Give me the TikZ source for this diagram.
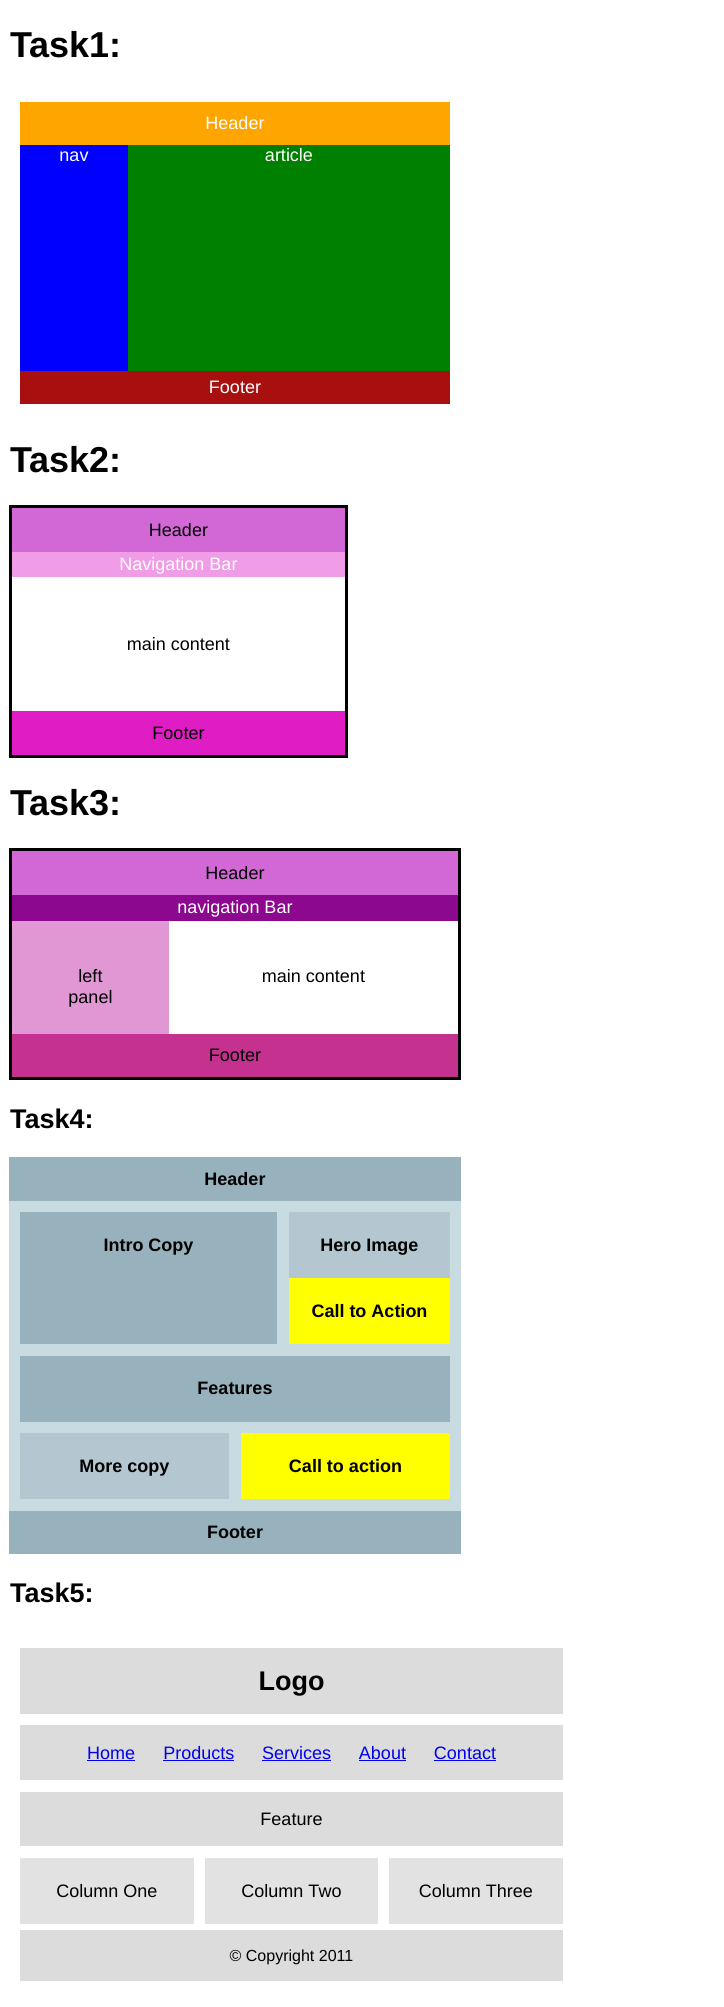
\documentclass[tikz,border=0pt]{standalone}
\usepackage{fontspec}
\setmainfont{Liberation Sans}
\definecolor{tAorange}{HTML}{FFA500}
\definecolor{tAblue}{HTML}{0000FF}
\definecolor{tAgreen}{HTML}{008000}
\definecolor{tAred}{HTML}{A81010}
\definecolor{orchidH}{HTML}{D268D6}
\definecolor{navpink}{HTML}{F09CE6}
\definecolor{footmag}{HTML}{E01CC4}
\definecolor{darkmag}{HTML}{8B088F}
\definecolor{leftpl}{HTML}{E097D4}
\definecolor{footmvr}{HTML}{C4318F}
\definecolor{slateD}{HTML}{97B2BC}
\definecolor{slateL}{HTML}{B4C7D0}
\definecolor{slateBg}{HTML}{C8DBE0}
\definecolor{callY}{HTML}{FFFF00}
\definecolor{gainsA}{HTML}{DCDCDC}
\definecolor{gainsB}{HTML}{E2E2E2}
\definecolor{linkblue}{HTML}{0000EE}
\tikzset{
  box/.style={anchor=north west, inner sep=0pt, outer sep=0pt, draw=none},
  frame/.style={anchor=north west, inner sep=0pt, outer sep=0pt, draw=black, line width=3pt, fill=none},
  title/.style={anchor=base west, inner sep=0pt, font=\fontsize{36}{40}\selectfont\bfseries},
  subtitle/.style={anchor=base west, inner sep=0pt, font=\fontsize{27}{30}\selectfont\bfseries},
  txt/.style={anchor=base, inner sep=0pt, font=\fontsize{18}{21}\selectfont},
  btxt/.style={anchor=base, inner sep=0pt, font=\fontsize{18}{21}\selectfont\bfseries},
  link/.style={anchor=base, inner sep=0pt, text=linkblue, font=\fontsize{18}{21}\selectfont}
}
\begin{document}
\begin{tikzpicture}[x=1pt,y=-1pt]
\fill[white] (0,0) rectangle (723,2007);
\useasboundingbox (0,0) rectangle (723,2007);

% ---------- Task1 ----------
\node[title] (title1) at (10,57.3) {Task1:};
\node[box, fill=tAorange, minimum width=430pt, minimum height=43pt] (t1head) at (20,102) {};
\node[box, fill=tAblue, minimum width=108pt, minimum height=226pt] (t1nav) at (20,145) {};
\node[box, fill=tAgreen, minimum width=322pt, minimum height=226pt] (t1art) at (128,145) {};
\node[box, fill=tAred, minimum width=430pt, minimum height=33pt] (t1foot) at (20,371) {};
\node[txt, text=white] (t1headT) at (235,129.5) {Header};
\node[txt, text=white] (t1navT) at (74,161) {nav};
\node[txt, text=white] (t1artT) at (289,161) {article};
\node[txt, text=white] (t1footT) at (235,393.5) {Footer};

% ---------- Task2 ----------
\node[title] (title2) at (10,472.7) {Task2:};
\node[box, fill=orchidH, minimum width=333pt, minimum height=43.7pt] (t2head) at (12,508.3) {};
\node[box, fill=navpink, minimum width=333pt, minimum height=24.7pt] (t2nav) at (12,552) {};
\node[box, fill=white, minimum width=333pt, minimum height=134.3pt] (t2main) at (12,576.7) {};
\node[box, fill=footmag, minimum width=333pt, minimum height=44pt] (t2foot) at (12,711) {};
\node[frame, minimum width=336pt, minimum height=249.4pt] (t2frame) at (10.5,506.8) {};
\node[txt] (t2headT) at (178.5,536.5) {Header};
\node[txt, text=white] (t2navT) at (178.5,570.5) {Navigation Bar};
\node[txt] (t2mainT) at (178.5,650) {main content};
\node[txt] (t2footT) at (178.5,739.5) {Footer};

% ---------- Task3 ----------
\node[title] (title3) at (10,815) {Task3:};
\node[box, fill=orchidH, minimum width=446pt, minimum height=43.7pt] (t3head) at (12,851.3) {};
\node[box, fill=darkmag, minimum width=446pt, minimum height=26pt] (t3nav) at (12,895) {};
\node[box, fill=leftpl, minimum width=157pt, minimum height=113pt] (t3left) at (12,921) {};
\node[box, fill=white, minimum width=289pt, minimum height=113pt] (t3main) at (169,921) {};
\node[box, fill=footmvr, minimum width=446pt, minimum height=42.7pt] (t3foot) at (12,1034) {};
\node[frame, minimum width=449pt, minimum height=228.4pt] (t3frame) at (10.5,849.8) {};
\node[txt] (t3headT) at (235,879.5) {Header};
\node[txt, text=white] (t3navT) at (235,913.5) {navigation Bar};
\node[txt] (t3leftA) at (90.5,982) {left};
\node[txt] (t3leftB) at (90.5,1003) {panel};
\node[txt] (t3mainT) at (313.5,982) {main content};
\node[txt] (t3footT) at (235,1061.5) {Footer};

% ---------- Task4 ----------
\node[subtitle] (title4) at (10,1128) {Task4:};
\node[box, fill=slateD, minimum width=452pt, minimum height=44.3pt] (t4head) at (9,1156.7) {};
\node[box, fill=slateBg, minimum width=452pt, minimum height=309.7pt] (t4bg) at (9,1201) {};
\node[box, fill=slateD, minimum width=452pt, minimum height=43pt] (t4foot) at (9,1510.7) {};
\node[box, fill=slateD, minimum width=257pt, minimum height=132pt] (t4intro) at (20,1212) {};
\node[box, fill=slateL, minimum width=161pt, minimum height=66pt] (t4hero) at (289,1212) {};
\node[box, fill=callY, minimum width=161pt, minimum height=66pt] (t4cta) at (289,1278) {};
\node[box, fill=slateD, minimum width=430pt, minimum height=66pt] (t4feat) at (20,1356) {};
\node[box, fill=slateL, minimum width=209pt, minimum height=66pt] (t4more) at (20,1433) {};
\node[box, fill=callY, minimum width=209pt, minimum height=66pt] (t4ctb) at (241,1433) {};
\node[btxt] (t4headT) at (235,1185.3) {Header};
\node[btxt] (t4introT) at (148.5,1251.7) {Intro Copy};
\node[btxt] (t4heroT) at (369.5,1251.7) {Hero Image};
\node[btxt] (t4ctaT) at (369.5,1317) {Call to Action};
\node[btxt] (t4featT) at (235,1394) {Features};
\node[btxt] (t4moreT) at (124.5,1472.5) {More copy};
\node[btxt] (t4ctbT) at (345.5,1472.5) {Call to action};
\node[btxt] (t4footT) at (235,1538.5) {Footer};

% ---------- Task5 ----------
\node[subtitle] (title5) at (10,1602.3) {Task5:};
\node[box, fill=gainsA, minimum width=543pt, minimum height=66pt] (t5logo) at (20,1648) {};
\node[box, fill=gainsA, minimum width=543pt, minimum height=55pt] (t5nav) at (20,1725) {};
\node[box, fill=gainsA, minimum width=543pt, minimum height=54pt] (t5feat) at (20,1792) {};
\node[box, fill=gainsB, minimum width=174pt, minimum height=66pt] (t5c1) at (20,1858) {};
\node[box, fill=gainsB, minimum width=173pt, minimum height=66pt] (t5c2) at (205,1858) {};
\node[box, fill=gainsB, minimum width=174pt, minimum height=66pt] (t5c3) at (389,1858) {};
\node[box, fill=gainsA, minimum width=543pt, minimum height=51pt] (t5copy) at (20,1930) {};
\node[anchor=base, inner sep=0pt, font=\fontsize{27}{30}\selectfont\bfseries] (t5logoT) at (291.5,1690) {Logo};
\node[link] (t5home) at (111.2,1759) {\underline{Home}};
\node[link] (t5prod) at (198.8,1759) {\underline{Products}};
\node[link] (t5serv) at (296.7,1759) {\underline{Services}};
\node[link] (t5about) at (382.5,1759) {\underline{About}};
\node[link] (t5cont) at (465,1759) {\underline{Contact}};
\node[txt] (t5featT) at (291.5,1825) {Feature};
\node[txt] (t5c1T) at (107,1897) {Column One};
\node[txt] (t5c2T) at (291.5,1897) {Column Two};
\node[txt] (t5c3T) at (476,1897) {Column Three};
\node[anchor=base, inner sep=0pt, font=\fontsize{16}{19}\selectfont] (t5copyT) at (291.5,1961) {© Copyright 2011};
\end{tikzpicture}
\end{document}
